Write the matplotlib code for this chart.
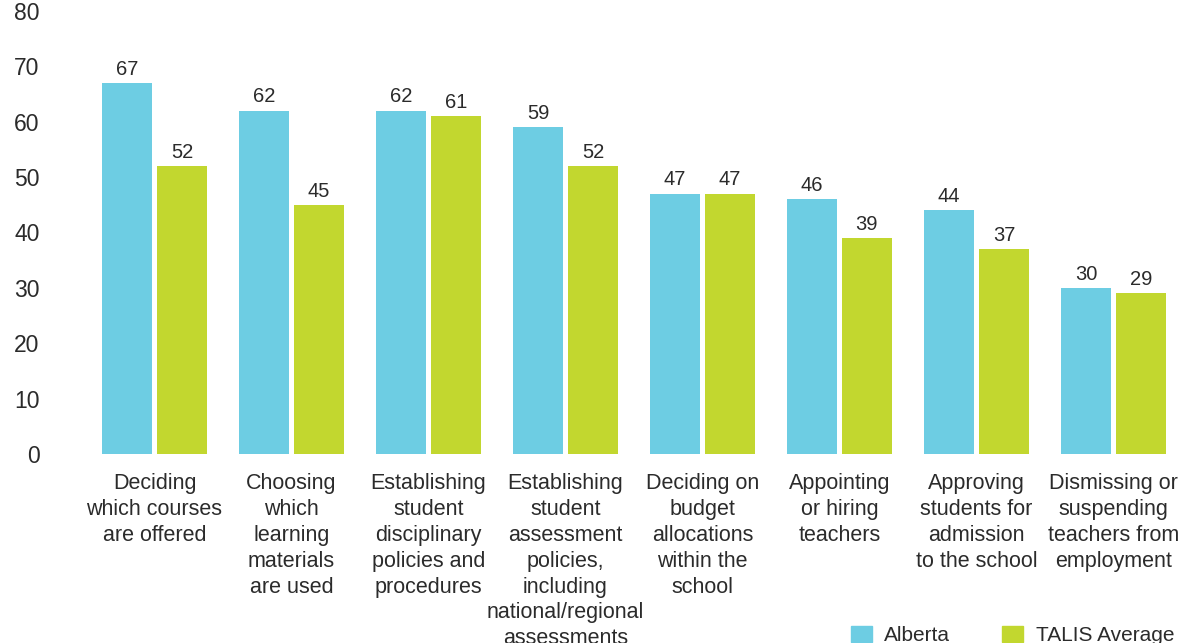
import matplotlib
matplotlib.use('Agg')
import matplotlib.pyplot as plt
import numpy as np
from matplotlib.patches import Patch

plt.rcParams['font.family'] = ['Liberation Sans', 'DejaVu Sans']

categories = ["Deciding\nwhich courses\nare offered",
              "Choosing\nwhich\nlearning\nmaterials\nare used",
              "Establishing\nstudent\ndisciplinary\npolicies and\nprocedures",
              "Establishing\nstudent\nassessment\npolicies,\nincluding\nnational/regional\nassessments",
              "Deciding on\nbudget\nallocations\nwithin the\nschool",
              "Appointing\nor hiring\nteachers",
              "Approving\nstudents for\nadmission\nto the school",
              "Dismissing or\nsuspending\nteachers from\nemployment"]
alberta = [67, 62, 62, 59, 47, 46, 44, 30]
talis = [52, 45, 61, 52, 47, 39, 37, 29]
series_names = ['Alberta', 'TALIS Average']
yticks = [0, 10, 20, 30, 40, 50, 60, 70, 80]

c_alb = '#6dcde3'
c_tal = '#c2d72f'
txt = '#2b2b2b'

fig = plt.figure(figsize=(11.85, 6.43), dpi=100)
ax = fig.add_axes([80/1185, 189/643, 1 - 80/1185, 443.2/643])

x = np.arange(len(categories))
w = 0.365
off = 0.2
b1 = ax.bar(x - off, alberta, w, color=c_alb)
b2 = ax.bar(x + off, talis, w, color=c_tal)

for bars, vals in ((b1, alberta), (b2, talis)):
    for r, v in zip(bars, vals):
        ax.annotate(str(v), (r.get_x() + r.get_width()/2, v), xytext=(0, 3),
                    textcoords='offset points', ha='center', va='bottom',
                    fontsize=14.5, color=txt)

ax.set_xlim(-0.544, 7.522)
ax.set_ylim(0, 80)
ax.set_yticks(yticks)
ax.set_xticks(x)
ax.set_xticklabels(categories, fontsize=15.5, color=txt, linespacing=1.3, va='top')
ax.tick_params(axis='x', length=0, pad=14)
ax.tick_params(axis='y', length=0, pad=29, labelsize=16.5, labelcolor=txt)
for s in ax.spines.values():
    s.set_visible(False)

handles = [Patch(color=c_alb), Patch(color=c_tal)]
fig.legend(handles, series_names, loc='lower left', bbox_to_anchor=(832/1185, -21/643),
           ncol=2, frameon=False, fontsize=15, handlelength=1.0, handleheight=0.85,
           handletextpad=0.6, columnspacing=2.5, labelcolor=txt)

fig.savefig('out.png', dpi=100)
